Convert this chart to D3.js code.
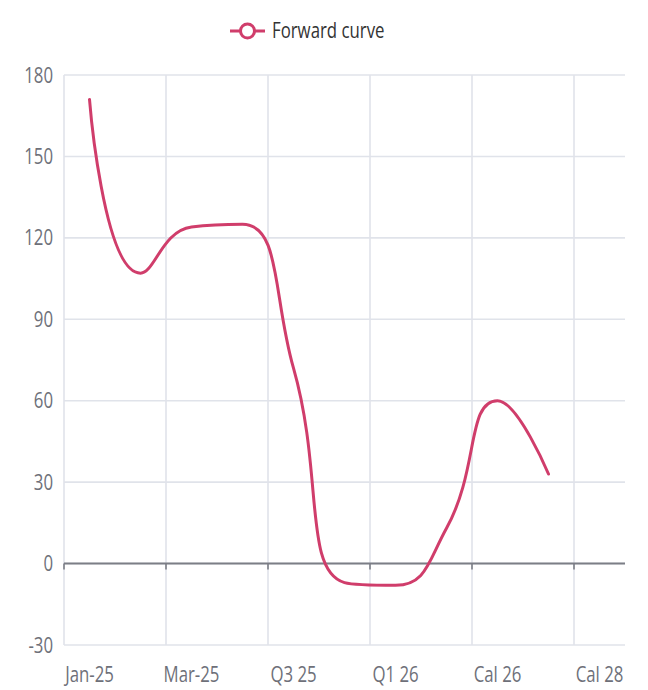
<!DOCTYPE html>
<html><head><meta charset="utf-8">
<script src="https://cdnjs.cloudflare.com/ajax/libs/d3/7.8.5/d3.min.js"></script>
<style>html,body{margin:0;padding:0;background:#fff;}</style>
</head><body>
<svg id="chart" width="648" height="690"></svg>
<script>
const categories = ["Jan-25","Feb-25","Mar-25","Apr-25","Q3 25","Q4 25","Q1 26","Q2 26","Cal 26","Cal 27","Cal 28"];
const forwardCurve = [171,107,124,125,72,-7,-8,13,60,33];
const yTicks = [-30,0,30,60,90,120,150,180];
const seriesName = "Forward curve";

(function(){
const plotL = 64, plotR = 625, plotT = 75, plotB = 645;
const color = "#d03d6b";
const gridColor = "#e0e3ea";
const textColor = "#6e7079";
const font = "'Open Sans', 'Noto Sans', sans-serif";
const fs = 21, sx = 0.8;

const svg = d3.select("#chart");
const x = d3.scaleBand().domain(categories).range([plotL, plotR]);
const y = d3.scaleLinear().domain([-30,180]).range([plotB, plotT]);

svg.append("g").selectAll("line").data(yTicks).join("line")
  .attr("x1", plotL).attr("x2", plotR)
  .attr("y1", d => y(d)).attr("y2", d => y(d))
  .attr("stroke", gridColor).attr("stroke-width", 1.6);

const vIdx = d3.range(0, categories.length, 2);
svg.append("g").selectAll("line").data(vIdx).join("line")
  .attr("x1", i => x(categories[i])).attr("x2", i => x(categories[i]))
  .attr("y1", plotT).attr("y2", plotB)
  .attr("stroke", gridColor).attr("stroke-width", 1.6);

svg.append("line").attr("x1", plotL).attr("x2", plotR)
  .attr("y1", y(0)).attr("y2", y(0))
  .attr("stroke", "#7c7e86").attr("stroke-width", 2);
svg.append("g").selectAll("line").data(vIdx).join("line")
  .attr("x1", i => x(categories[i])).attr("x2", i => x(categories[i]))
  .attr("y1", y(0)).attr("y2", y(0) + 6)
  .attr("stroke", "#7c7e86").attr("stroke-width", 1.6);

svg.append("g").selectAll("text").data(yTicks).join("text")
  .attr("transform", d => `translate(53,${y(d)}) scale(${sx},1)`)
  .attr("text-anchor", "end").attr("dy", "0.36em")
  .attr("font-family", font).attr("font-size", fs).attr("fill", textColor)
  .text(d => d);

svg.append("g").selectAll("text").data(vIdx).join("text")
  .attr("transform", i => `translate(${x(categories[i]) + x.bandwidth()/2},682) scale(${sx},1)`)
  .attr("text-anchor", "middle")
  .attr("font-family", font).attr("font-size", fs).attr("fill", textColor)
  .text(i => categories[i]);

function EcSmooth(context){ this._context = context; }
EcSmooth.prototype = {
  areaStart(){}, areaEnd(){},
  lineStart(){ this._pts = []; },
  point(px, py){ this._pts.push([+px, +py]); },
  lineEnd(){
    const p = this._pts, c = this._context, n = p.length, s = 0.5;
    const mn = Math.min, mx = Math.max;
    if (!n) return;
    c.moveTo(p[0][0], p[0][1]);
    let cpx0 = p[0][0], cpy0 = p[0][1];
    for (let i = 1; i < n; i++) {
      const [xx, yy] = p[i], [prevX, prevY] = p[i-1];
      let cpx1, cpy1, ncx = xx, ncy = yy;
      if (i < n - 1) {
        const [nextX, nextY] = p[i+1];
        let vx = nextX - prevX, vy = nextY - prevY;
        const l0 = Math.hypot(xx - prevX, yy - prevY), l1 = Math.hypot(nextX - xx, nextY - yy);
        const r = l1 / (l0 + l1);
        ncx = xx + vx * s * r; ncy = yy + vy * s * r;
        ncx = mn(ncx, mx(nextX, xx)); ncy = mn(ncy, mx(nextY, yy));
        ncx = mx(ncx, mn(nextX, xx)); ncy = mx(ncy, mn(nextY, yy));
        vx = ncx - xx; vy = ncy - yy;
        cpx1 = xx - vx * l0 / l1; cpy1 = yy - vy * l0 / l1;
        cpx1 = mn(cpx1, mx(prevX, xx)); cpy1 = mn(cpy1, mx(prevY, yy));
        cpx1 = mx(cpx1, mn(prevX, xx)); cpy1 = mx(cpy1, mn(prevY, yy));
        vx = xx - cpx1; vy = yy - cpy1;
        ncx = xx + vx * l1 / l0; ncy = yy + vy * l1 / l0;
      } else { cpx1 = xx; cpy1 = yy; }
      c.bezierCurveTo(cpx0, cpy0, cpx1, cpy1, xx, yy);
      cpx0 = ncx; cpy0 = ncy;
    }
  }
};
const ecCurve = ctx => new EcSmooth(ctx);

const line = d3.line()
  .x((d, i) => x(categories[i]) + x.bandwidth()/2)
  .y(d => y(d))
  .curve(ecCurve);

svg.append("path").datum(forwardCurve)
  .attr("d", line).attr("fill", "none")
  .attr("stroke", color).attr("stroke-width", 3)
  .attr("stroke-linejoin", "round").attr("stroke-linecap", "round");

const lg = svg.append("g");
lg.append("line").attr("x1", 230).attr("x2", 265).attr("y1", 31).attr("y2", 31)
  .attr("stroke", color).attr("stroke-width", 3);
lg.append("circle").attr("cx", 247.5).attr("cy", 31).attr("r", 7)
  .attr("fill", "#fff").attr("stroke", color).attr("stroke-width", 3);
lg.append("text").attr("transform", `translate(272,38) scale(${sx},1)`)
  .attr("font-family", font).attr("font-size", fs).attr("fill", "#333")
  .text(seriesName);
})();
</script>
</body></html>
